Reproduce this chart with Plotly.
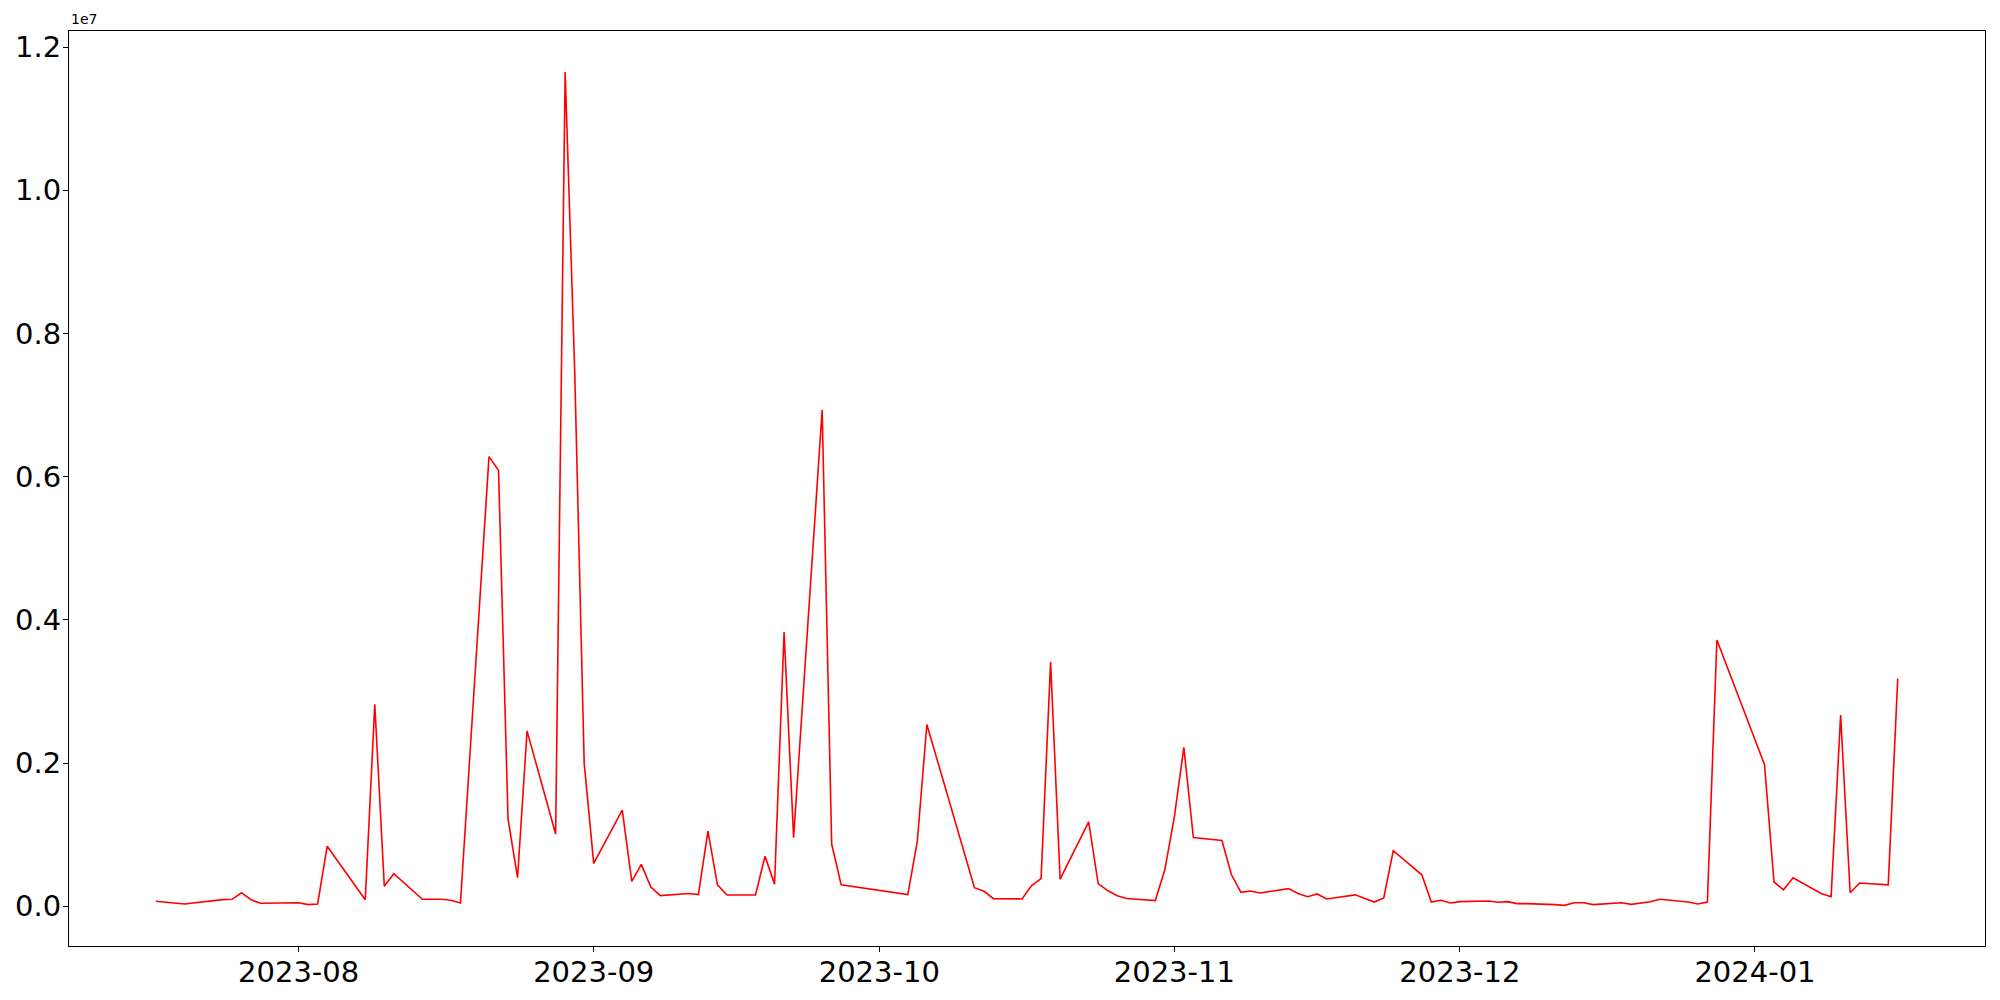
import plotly.graph_objects as go

dates = [
    "2023-07-17", "2023-07-20", "2023-07-24", "2023-07-25", "2023-07-26", "2023-07-27", "2023-07-28",
    "2023-08-01", "2023-08-02", "2023-08-03", "2023-08-04", "2023-08-08", "2023-08-09", "2023-08-10",
    "2023-08-11", "2023-08-14", "2023-08-16", "2023-08-17", "2023-08-18", "2023-08-21", "2023-08-22",
    "2023-08-23", "2023-08-24", "2023-08-25", "2023-08-28", "2023-08-29", "2023-08-30", "2023-08-31",
    "2023-09-01", "2023-09-04", "2023-09-05", "2023-09-06", "2023-09-07", "2023-09-08", "2023-09-11",
    "2023-09-12", "2023-09-13", "2023-09-14", "2023-09-15", "2023-09-18", "2023-09-19", "2023-09-20",
    "2023-09-21", "2023-09-22", "2023-09-25", "2023-09-26", "2023-09-27", "2023-10-04", "2023-10-05",
    "2023-10-06", "2023-10-11", "2023-10-12", "2023-10-13", "2023-10-16", "2023-10-17", "2023-10-18",
    "2023-10-19", "2023-10-20", "2023-10-23", "2023-10-24", "2023-10-25", "2023-10-26", "2023-10-27",
    "2023-10-30", "2023-10-31", "2023-11-01", "2023-11-02", "2023-11-03", "2023-11-06", "2023-11-07",
    "2023-11-08", "2023-11-09", "2023-11-10", "2023-11-13", "2023-11-14", "2023-11-15", "2023-11-16",
    "2023-11-17", "2023-11-20", "2023-11-22", "2023-11-23", "2023-11-24", "2023-11-27", "2023-11-28",
    "2023-11-29", "2023-11-30", "2023-12-01", "2023-12-04", "2023-12-05", "2023-12-06", "2023-12-07",
    "2023-12-08", "2023-12-11", "2023-12-12", "2023-12-13", "2023-12-14", "2023-12-15", "2023-12-18",
    "2023-12-19", "2023-12-20", "2023-12-21", "2023-12-22", "2023-12-25", "2023-12-26", "2023-12-27",
    "2023-12-28", "2024-01-02", "2024-01-03", "2024-01-04", "2024-01-05", "2024-01-08", "2024-01-09",
    "2024-01-10", "2024-01-11", "2024-01-12", "2024-01-15", "2024-01-16",
]

values = [
    70000, 33000, 93000, 98000, 190000, 93000, 42000,
    50000, 24000, 33000, 840000, 93000, 2820000, 280000,
    456000, 98000, 98000, 84000, 47000, 6280000, 6090000,
    1220000, 400000, 2450000, 1010000, 11650000, 7500000, 2000000,
    600000, 1345000, 350000, 586000, 270000, 149000, 180000,
    163000, 1050000, 300000, 158000, 158000, 700000, 310000,
    3830000, 960000, 6930000, 870000, 300000, 163000, 910000,
    2540000, 260000, 210000, 107000, 103000, 290000, 387000,
    3410000, 380000, 1180000, 317000, 220000, 149000, 110000,
    80000, 510000, 1250000, 2220000, 960000, 920000, 440000,
    195000, 213000, 187000, 247000, 180000, 135000, 173000,
    103000, 160000, 60000, 118000, 778000, 440000, 60000,
    84000, 47000, 65000, 75000, 56000, 65000, 38000,
    38000, 24000, 14000, 50000, 50000, 24000, 50000,
    28000, 42000, 65000, 98000, 60000, 33000, 60000,
    3720000, 1980000, 340000, 230000, 400000, 177000, 135000,
    2670000, 190000, 326000, 300000, 3180000,
]

x_tick_vals = ["2023-08-01", "2023-09-01", "2023-10-01", "2023-11-01", "2023-12-01", "2024-01-01"]
x_tick_text = ["2023-08", "2023-09", "2023-10", "2023-11", "2023-12", "2024-01"]
y_tick_vals = [0, 2000000, 4000000, 6000000, 8000000, 10000000, 12000000]
y_tick_text = ["0.0", "0.2", "0.4", "0.6", "0.8", "1.0", "1.2"]

fig = go.Figure()
fig.add_trace(go.Scatter(
    x=dates, y=values, mode="lines",
    line=dict(color="#ff0000", width=1.6),
    showlegend=False, hoverinfo="x+y",
))

axis_common = dict(
    showgrid=False, zeroline=False, automargin=False,
    showline=True, linecolor="black", linewidth=1.1, mirror=True,
    ticks="outside", ticklen=5, tickwidth=1.1, tickcolor="black",
    tickfont=dict(family="DejaVu Sans", size=29, color="black"),
)

fig.update_layout(
    width=1992, height=992,
    paper_bgcolor="white", plot_bgcolor="white",
    margin=dict(l=61, r=15, t=23, b=54),
    xaxis=dict(
        type="date",
        range=["2023-07-07 21:00", "2024-01-25 04:00"],
        tickvals=x_tick_vals, ticktext=x_tick_text,
        ticklabelstandoff=-5,
        **axis_common,
    ),
    yaxis=dict(
        range=[-554000, 12224000],
        tickvals=y_tick_vals, ticktext=y_tick_text,
        ticklabelstandoff=-4,
        **axis_common,
    ),
    annotations=[dict(
        text="1e7", x=0, y=1, xref="paper", yref="paper",
        xanchor="left", yanchor="bottom", yshift=2, showarrow=False,
        font=dict(family="DejaVu Sans", size=14, color="black"),
    )],
)

fig.write_html("out.html")
